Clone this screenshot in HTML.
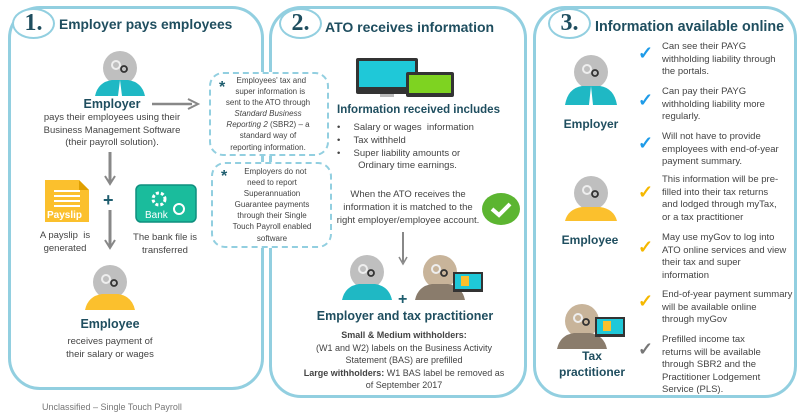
<!DOCTYPE html>
<html><head><meta charset="utf-8"><style>
body{margin:0;width:800px;height:413px;background:#fff;position:relative;overflow:hidden;font-family:"Liberation Sans",sans-serif;color:#333}
.p{position:absolute;border:3px solid #92cfe0;border-radius:32px;box-sizing:border-box}
.t{position:absolute;white-space:nowrap;font-size:9.5px;line-height:12.6px;color:#444}
.c{text-align:center;transform:translateX(-50%)}
.h{position:absolute;white-space:nowrap;font-weight:bold;color:#1f4e5f}
.num{position:absolute;border:2.5px solid #92cfe0;border-radius:50%;background:#fff;box-sizing:border-box;font-family:"Liberation Serif",serif;font-weight:bold;font-size:24px;color:#1f4e5f;text-align:center;line-height:26px}
.dash{position:absolute;border:2.5px dashed #92cfe0;border-radius:14px;box-sizing:border-box;background:#fff}
svg{position:absolute;overflow:visible}
.ck{position:absolute;font-size:18px;font-weight:bold;line-height:18px}
</style></head><body>
<div class="p" style="left:8px;top:6px;width:256px;height:384px"></div>
<div class="p" style="left:269px;top:6px;width:258px;height:392px"></div>
<div class="p" style="left:533px;top:6px;width:264px;height:392px"></div>

<div class="num" style="left:12px;top:8px;width:43px;height:31px">1.</div>
<div class="h" style="left:59px;top:17px;font-size:13.8px">Employer pays employees</div>
<div class="num" style="left:279px;top:8px;width:43px;height:31px">2.</div>
<div class="h" style="left:325px;top:19px;font-size:14px">ATO receives information</div>
<div class="num" style="left:548px;top:8px;width:43px;height:31px">3.</div>
<div class="h" style="left:595px;top:19px;font-size:14.3px">Information available online</div>

<svg width="0" height="0"><defs>
<g id="head"><circle cx="0" cy="0" r="17" fill="#bfbfbf"/><rect x="-8" y="10" width="16" height="14" fill="#bfbfbf"/><circle cx="-4" cy="-3" r="4" fill="none" stroke="#eee" stroke-width="2"/><circle cx="4" cy="1" r="3" fill="none" stroke="#333" stroke-width="1.8"/></g>
</defs></svg>

<!-- panel1 -->
<svg style="left:95px;top:48px" width="50" height="50"><use href="#head" x="25" y="20"/><path d="M0 48 Q3 34 17 32 L33 32 Q47 34 50 48Z" fill="#1fb8c4"/><path d="M25 32 L23 48 L27 48Z" fill="#fff"/></svg>
<div class="h c" style="left:112px;top:97px;font-size:12.5px">Employer</div>
<div class="t c" style="left:112px;top:112px">pays their employees using their<br>Business Management Software<br>(their payroll solution).</div>
<svg style="left:152px;top:98px" width="48" height="12"><line x1="0" y1="6" x2="40" y2="6" stroke="#888" stroke-width="2.5"/><path d="M36 1 L46 6 L36 11" fill="none" stroke="#888" stroke-width="2"/></svg>
<svg style="left:104px;top:152px" width="12" height="34"><line x1="6" y1="0" x2="6" y2="30" stroke="#888" stroke-width="3"/><path d="M1 24 L6 32 L11 24" fill="none" stroke="#888" stroke-width="2"/></svg>
<svg style="left:104px;top:210px" width="12" height="40"><line x1="6" y1="0" x2="6" y2="36" stroke="#888" stroke-width="3"/><path d="M1 30 L6 38 L11 30" fill="none" stroke="#888" stroke-width="2"/></svg>
<div class="h" style="left:103px;top:190px;font-size:18px;color:#1f5e6f">+</div>
<svg style="left:45px;top:180px" width="44" height="42"><path d="M0 0 H34 L44 10 V42 H0Z" fill="#fbc02d"/><path d="M34 0 V10 H44" fill="#e0a000"/><g stroke="#fff" stroke-width="2"><line x1="9" y1="11" x2="35" y2="11"/><line x1="9" y1="16" x2="35" y2="16"/><line x1="9" y1="21" x2="35" y2="21"/><line x1="9" y1="26" x2="35" y2="26"/></g><text x="2" y="38" font-size="10" font-weight="bold" fill="#fff" font-family="Liberation Sans">Payslip</text></svg>
<svg style="left:135px;top:183px" width="62" height="40"><rect x="1" y="2" width="60" height="37" rx="5" fill="#1abc9c" stroke="#0e8f7f" stroke-width="1.5"/><circle cx="24" cy="16" r="6" fill="none" stroke="#fff" stroke-width="3" stroke-dasharray="3 2"/><circle cx="44" cy="26" r="5" fill="none" stroke="#fff" stroke-width="2"/><text x="10" y="35" font-size="10" fill="#fff" font-family="Liberation Sans">Bank</text></svg>
<div class="t c" style="left:65px;top:230px">A payslip&nbsp; is<br>generated</div>
<div class="t c" style="left:165px;top:232px">The bank file is<br>transferred</div>
<svg style="left:85px;top:262px" width="50" height="50"><use href="#head" x="25" y="20"/><path d="M0 48 Q3 34 17 32 L33 32 Q47 34 50 48Z" fill="#fbc02d"/></svg>
<div class="h c" style="left:110px;top:317px;font-size:12.5px">Employee</div>
<div class="t c" style="left:110px;top:336px">receives payment of<br>their salary or wages</div>
<div class="t" style="left:42px;top:401px;color:#777;font-size:9px">Unclassified – Single Touch Payroll</div>

<!-- dashed boxes -->
<div class="dash" style="left:209px;top:72px;width:120px;height:84px"></div>
<div class="dash" style="left:211px;top:162px;width:121px;height:86px"></div>
<div class="ck" style="left:219px;top:79px;color:#1f5e6f;font-size:16px">*</div>
<div class="t c" style="left:268px;top:75px;font-size:8px;line-height:11.1px">&nbsp;&nbsp;&nbsp;Employees' tax and<br>&nbsp;&nbsp;super information is<br>sent to the ATO through<br><i>Standard Business</i><br><i>Reporting 2</i> (SBR2) – a<br>standard way of<br>reporting information.</div>
<div class="ck" style="left:221px;top:168px;color:#1f5e6f;font-size:16px">*</div>
<div class="t c" style="left:272px;top:166px;font-size:8px;line-height:11.1px">&nbsp;&nbsp;&nbsp;Employers do not<br>need to report<br>Superannuation<br>Guarantee payments<br>through their Single<br>Touch Payroll enabled<br>software</div>

<!-- panel2 -->
<svg style="left:356px;top:58px" width="100" height="40"><rect x="0" y="0" width="62" height="36" rx="2" fill="#333"/><rect x="3" y="3" width="56" height="26" fill="#1fc8d8"/><rect x="24" y="36" width="14" height="3" fill="#bbb"/><rect x="50" y="14" width="48" height="25" rx="2" fill="#333"/><rect x="53" y="17" width="42" height="18" fill="#7ed321"/></svg>
<div class="h" style="left:337px;top:104px;font-size:11.5px">Information received includes</div>
<div class="t" style="left:337px;top:122px;line-height:12.8px">•&nbsp;&nbsp;&nbsp;&nbsp;&nbsp;Salary or wages&nbsp; information<br>•&nbsp;&nbsp;&nbsp;&nbsp;&nbsp;Tax withheld<br>•&nbsp;&nbsp;&nbsp;&nbsp;&nbsp;Super liability amounts or<br>&nbsp;&nbsp;&nbsp;&nbsp;&nbsp;&nbsp;&nbsp;&nbsp;Ordinary time earnings.</div>
<div class="t c" style="left:408px;top:188px;line-height:13px">When the ATO receives the<br>information it is matched to the<br>right employer/employee account.</div>
<svg style="left:482px;top:193px" width="38" height="32"><ellipse cx="19" cy="16" rx="19" ry="16" fill="#5cb531"/><path d="M10 16 L17 22 L28 11" fill="none" stroke="#fff" stroke-width="4"/></svg>
<svg style="left:397px;top:232px" width="12" height="34"><line x1="6" y1="0" x2="6" y2="30" stroke="#888" stroke-width="2"/><path d="M2 25 L6 32 L10 25" fill="none" stroke="#888" stroke-width="1.5"/></svg>
<svg style="left:342px;top:254px" width="50" height="46"><use href="#head" x="25" y="18"/><path d="M0 46 Q3 32 17 30 L33 30 Q47 32 50 46Z" fill="#1fb8c4"/></svg>
<svg style="left:415px;top:254px" width="70" height="46"><g transform="translate(25,18)"><circle r="17" fill="#c8b49a"/><rect x="-8" y="10" width="16" height="14" fill="#c8b49a"/><circle cx="-4" cy="-3" r="4" fill="none" stroke="#eee" stroke-width="2"/><circle cx="4" cy="1" r="3" fill="none" stroke="#333" stroke-width="1.8"/></g><path d="M0 46 Q3 32 17 30 L33 30 Q47 32 50 46Z" fill="#8a7c6c"/><rect x="38" y="18" width="30" height="20" fill="#333"/><rect x="40" y="20" width="26" height="15" fill="#1fc8d8"/><rect x="46" y="22" width="8" height="10" fill="#fbc02d"/></svg>
<div class="h" style="left:398px;top:291px;font-size:16px;color:#1f5e6f">+</div>
<div class="h c" style="left:405px;top:309px;font-size:12.5px">Employer and tax practitioner</div>
<div class="t c" style="left:404px;top:329px;font-size:9px;line-height:12.5px"><b>Small &amp; Medium withholders:</b><br>(W1 and W2) labels on the Business Activity<br>Statement (BAS) are prefilled<br><b>Large withholders:</b> W1 BAS label be removed as<br>of September 2017</div>

<!-- panel3 -->
<svg style="left:565px;top:48px" width="52" height="60"><use href="#head" x="26" y="24"/><path d="M0 57 Q3 40 17 38 L35 38 Q49 40 52 57Z" fill="#1fb8c4"/><path d="M26 38 L24 57 L28 57Z" fill="#fff"/></svg>
<div class="h c" style="left:591px;top:117px;font-size:12px">Employer</div>
<svg style="left:565px;top:175px" width="52" height="48"><use href="#head" x="26" y="18"/><path d="M0 46 Q3 34 17 32 L35 32 Q49 34 52 46Z" fill="#fbc02d"/></svg>
<div class="h c" style="left:590px;top:233px;font-size:12px">Employee</div>
<svg style="left:557px;top:303px" width="70" height="46"><g transform="translate(25,18)"><circle r="17" fill="#c8b49a"/><rect x="-8" y="10" width="16" height="14" fill="#c8b49a"/><circle cx="-4" cy="-3" r="4" fill="none" stroke="#eee" stroke-width="2"/><circle cx="4" cy="1" r="3" fill="none" stroke="#333" stroke-width="1.8"/></g><path d="M0 46 Q3 32 17 30 L33 30 Q47 32 50 46Z" fill="#8a7c6c"/><rect x="38" y="14" width="30" height="20" fill="#333"/><rect x="40" y="16" width="26" height="15" fill="#1fc8d8"/><rect x="46" y="18" width="8" height="10" fill="#fbc02d"/></svg>
<div class="h c" style="left:592px;top:348px;font-size:12px;line-height:16px;text-align:center">Tax<br>practitioner</div>

<div class="ck" style="left:638px;top:44px;color:#1e9be8">✓</div>
<div class="ck" style="left:638px;top:91px;color:#1e9be8">✓</div>
<div class="ck" style="left:638px;top:134px;color:#1e9be8">✓</div>
<div class="ck" style="left:638px;top:183px;color:#f5b800">✓</div>
<div class="ck" style="left:638px;top:238px;color:#f5b800">✓</div>
<div class="ck" style="left:638px;top:292px;color:#f5b800">✓</div>
<div class="ck" style="left:638px;top:340px;color:#777">✓</div>
<div class="t" style="left:662px;top:41px">Can see their PAYG<br>withholding liability through<br>the portals.</div>
<div class="t" style="left:662px;top:86px">Can pay their PAYG<br>withholding liability more<br>regularly.</div>
<div class="t" style="left:662px;top:131px">Will not have to provide<br>employees with end-of-year<br>payment summary.</div>
<div class="t" style="left:662px;top:174px">This information will be pre-<br>filled into their tax returns<br>and lodged through myTax,<br>or a tax practitioner</div>
<div class="t" style="left:662px;top:232px">May use myGov to log into<br>ATO online services and view<br>their tax and super<br>information</div>
<div class="t" style="left:662px;top:289px">End-of-year payment summary<br>will be available online<br>through myGov</div>
<div class="t" style="left:662px;top:334px">Prefilled income tax<br>returns will be available<br>through SBR2 and the<br>Practitioner Lodgement<br>Service (PLS).</div>
</body></html>
